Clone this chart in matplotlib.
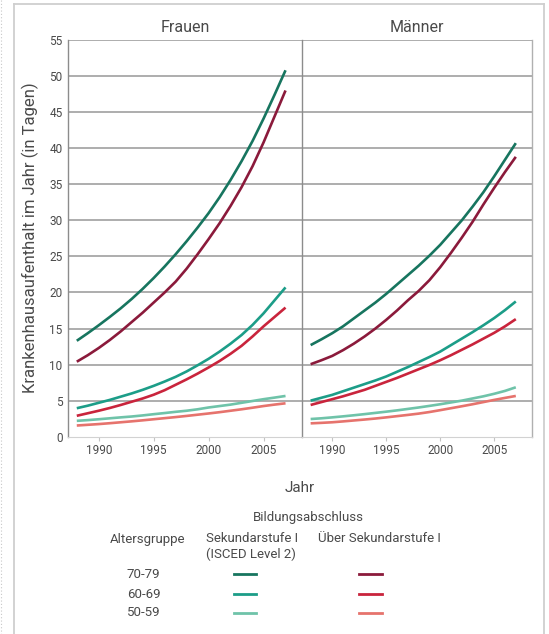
import matplotlib
matplotlib.use("Agg")
import matplotlib.pyplot as plt
from matplotlib.lines import Line2D

plt.rcParams['font.family'] = ['Roboto', 'DejaVu Sans']

years = list(range(1988, 2008))

panels = ["Frauen", "Männer"]
age_groups = ["70-79", "60-69", "50-59"]
edu_groups = ["Sekundarstufe I\n(ISCED Level 2)", "Über Sekundarstufe I"]

# Frauen
f_7079_sek = [13.3, 14.35, 15.45, 16.6, 17.8, 19.1, 20.5, 22.0, 23.6, 25.3, 27.1, 29.0, 31.0, 33.2, 35.6, 38.2, 41.0, 44.1, 47.4, 50.8]
f_7079_ueb = [10.4, 11.3, 12.3, 13.4, 14.6, 15.9, 17.2, 18.6, 20.0, 21.5, 23.3, 25.3, 27.4, 29.6, 32.0, 34.6, 37.5, 40.8, 44.4, 48.0]
f_6069_sek = [3.95, 4.3, 4.7, 5.1, 5.55, 6.0, 6.5, 7.05, 7.65, 8.3, 9.05, 9.9, 10.8, 11.8, 12.9, 14.1, 15.5, 17.1, 18.9, 20.7]
f_6069_ueb = [2.9, 3.25, 3.6, 3.98, 4.4, 4.85, 5.3, 5.82, 6.45, 7.2, 7.95, 8.75, 9.6, 10.5, 11.5, 12.6, 13.9, 15.3, 16.6, 17.9]
f_5059_sek = [2.2, 2.3, 2.42, 2.55, 2.68, 2.8, 2.95, 3.12, 3.28, 3.45, 3.6, 3.8, 4.05, 4.25, 4.45, 4.7, 4.95, 5.2, 5.42, 5.65]
f_5059_ueb = [1.55, 1.65, 1.75, 1.87, 2.0, 2.13, 2.27, 2.42, 2.57, 2.72, 2.88, 3.05, 3.22, 3.4, 3.6, 3.8, 4.02, 4.25, 4.45, 4.63]

# Männer
m_7079_sek = [12.7, 13.5, 14.35, 15.3, 16.4, 17.5, 18.6, 19.8, 21.1, 22.4, 23.7, 25.1, 26.6, 28.3, 30.0, 31.9, 33.9, 36.1, 38.4, 40.7]
m_7079_ueb = [10.05, 10.6, 11.2, 12.0, 12.9, 13.9, 15.0, 16.2, 17.5, 18.9, 20.2, 21.7, 23.5, 25.5, 27.6, 29.8, 32.2, 34.5, 36.7, 38.8]
m_6069_sek = [5.0, 5.4, 5.8, 6.3, 6.8, 7.3, 7.8, 8.35, 9.0, 9.65, 10.35, 11.05, 11.8, 12.7, 13.6, 14.5, 15.45, 16.45, 17.55, 18.75]
m_6069_ueb = [4.4, 4.8, 5.2, 5.6, 6.05, 6.5, 7.05, 7.6, 8.15, 8.75, 9.35, 9.95, 10.6, 11.3, 12.05, 12.8, 13.6, 14.4, 15.3, 16.3]
m_5059_sek = [2.45, 2.55, 2.68, 2.82, 2.97, 3.13, 3.3, 3.47, 3.65, 3.85, 4.05, 4.27, 4.5, 4.75, 5.0, 5.3, 5.6, 5.95, 6.35, 6.85]
m_5059_ueb = [1.85, 1.92, 2.0, 2.12, 2.25, 2.38, 2.52, 2.68, 2.85, 3.02, 3.2, 3.42, 3.68, 3.95, 4.22, 4.5, 4.8, 5.1, 5.38, 5.65]

x_ticks = [1990, 1995, 2000, 2005]
y_ticks = list(range(0, 56, 5))

col_sek = ["#17755f", "#1c9d88", "#6fc3a9"]
col_ueb = ["#8b1a3b", "#c9243c", "#e6736d"]

series = {
    "Frauen": [(f_7079_sek, f_7079_ueb), (f_6069_sek, f_6069_ueb), (f_5059_sek, f_5059_ueb)],
    "Männer": [(m_7079_sek, m_7079_ueb), (m_6069_sek, m_6069_ueb), (m_5059_sek, m_5059_ueb)],
}

W, H = 549, 634
fig = plt.figure(figsize=(W / 100, H / 100), dpi=100)

def fx(px):
    return px / W

def fy(py):
    return 1 - py / H

txt = "#4a4a4a"
grid_c = "#a0a0a0"
spine_c = "#8c8c8c"

ax_rects = [(68, 302), (302, 532)]
top, bot = 40, 436.7
for i, (name, (xl, xr)) in enumerate(zip(panels, ax_rects)):
    ax = fig.add_axes([fx(xl), fy(bot), fx(xr - xl), (bot - top) / H])
    for g, (s_sek, s_ueb) in enumerate(series[name]):
        ax.plot(years, s_sek, color=col_sek[g], lw=1.9, solid_capstyle='butt',
                solid_joinstyle='round', zorder=3)
        ax.plot(years, s_ueb, color=col_ueb[g], lw=1.9, solid_capstyle='butt',
                solid_joinstyle='round', zorder=3)
    ax.set_xlim(1987.2, 2008.5)
    ax.set_ylim(0, 55)
    ax.set_yticks(y_ticks)
    ax.set_xticks(x_ticks)
    for yv in y_ticks[1:]:
        ax.axhline(yv, color=grid_c, lw=1.2, zorder=1)
    ax.tick_params(axis='y', length=0, labelsize=8.5, colors=txt, pad=4)
    ax.tick_params(axis='x', length=3, width=0.8, color="#c4c4c4", labelsize=8.5,
                   labelcolor=txt, pad=2)
    for s in ["top", "right"]:
        ax.spines[s].set_visible(False)
    ax.spines["bottom"].set_color("#d2d2d2")
    ax.spines["bottom"].set_linewidth(0.8)
    ax.spines["left"].set_color(spine_c)
    ax.spines["left"].set_linewidth(1.0)
    if i == 1:
        ax.spines["right"].set_visible(True)
        ax.spines["right"].set_color("#b0b0b0")
        ax.spines["right"].set_linewidth(1.0)
        ax.tick_params(labelleft=False)
    ax.set_facecolor("none")
    ax.set_title(name, fontsize=11.5, color=txt, pad=6)

fig.text(fx(30), fy(238), "Krankenhausaufenthalt im Jahr (in Tagen)", rotation=90,
         ha="center", va="center", fontsize=12, color=txt)
fig.text(fx(300), fy(488), "Jahr", ha="center", va="center", fontsize=11, color=txt)

# Legend table
lf = 9.5
fig.text(fx(308), fy(517), "Bildungsabschluss", ha="center", va="center", fontsize=lf, color=txt)
fig.text(fx(148), fy(539), "Altersgruppe", ha="center", va="center", fontsize=lf, color=txt)
fig.text(fx(206), fy(532), edu_groups[0], ha="left", va="top", fontsize=lf, color=txt, linespacing=1.25)
fig.text(fx(318), fy(539), edu_groups[1], ha="left", va="center", fontsize=lf, color=txt)
row_y = [574, 594, 613]
for g, ag in enumerate(age_groups):
    fig.text(fx(143.5), fy(row_y[g]), ag, ha="center", va="center", fontsize=lf, color=txt)
    fig.add_artist(Line2D([fx(234), fx(256)], [fy(row_y[g]), fy(row_y[g])], color=col_sek[g], lw=2.0))
    fig.add_artist(Line2D([fx(359), fx(382)], [fy(row_y[g]), fy(row_y[g])], color=col_ueb[g], lw=2.0))

# outer frame
fc = "#cfcfcf"
fig.add_artist(Line2D([fx(14), fx(14)], [fy(4), 0], color=fc, lw=1.3))
fig.add_artist(Line2D([fx(14), fx(544)], [fy(4), fy(4)], color=fc, lw=1.3))
fig.add_artist(Line2D([fx(544), fx(544)], [fy(4), 0], color=fc, lw=1.3))
fig.add_artist(Line2D([fx(1), fx(1)], [1, 0], color="#c8c8c8", lw=0.8, linestyle=(0, (1, 2))))

fig.savefig("out.png", dpi=100)
